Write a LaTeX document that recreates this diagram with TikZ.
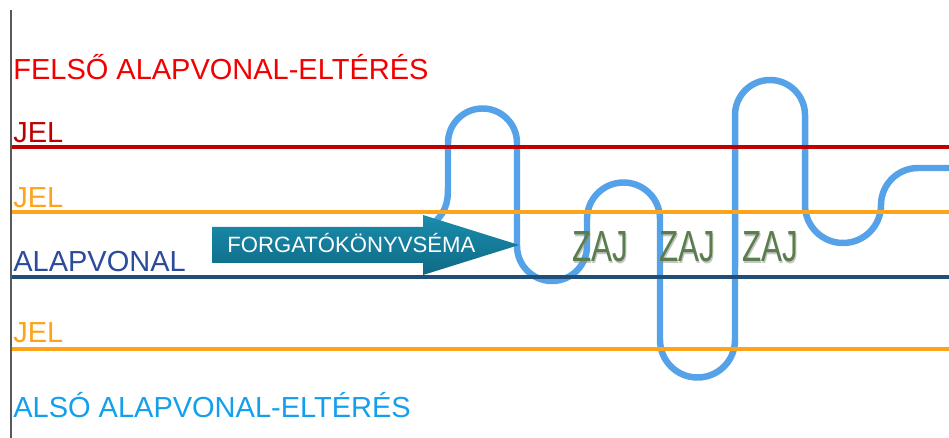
\documentclass[tikz,border=0pt]{standalone}
\usepackage{fontspec}
\setmainfont{Liberation Sans}
\definecolor{felsored}{HTML}{F20000}
\definecolor{jelred}{HTML}{C00000}
\definecolor{jelorange}{HTML}{FFA31A}
\definecolor{navyline}{HTML}{1F4E79}
\definecolor{navytext}{HTML}{2B4C9B}
\definecolor{alsoblue}{HTML}{12A0EC}
\definecolor{wave}{HTML}{55A2E8}
\definecolor{zajgreen}{HTML}{5A7D4C}
\definecolor{arrowtop}{HTML}{1A8DAC}
\definecolor{arrowbot}{HTML}{0E6A86}
\begin{document}
\begin{tikzpicture}[x=0.02cm,y=0.02cm,
  lbl/.style={anchor=base west,inner sep=0pt,font=\fontsize{16.5}{19}\selectfont},
  level/.style={line width=3.8pt*0.5669},
  zaj/.style={anchor=base,inner sep=0pt,text=zajgreen,font=\fontsize{24.8}{27}\selectfont},
  zajshadow/.style={anchor=base,inner sep=0pt,text=black!45,opacity=0.5,font=\fontsize{24.8}{27}\selectfont}]
\useasboundingbox (0,0) rectangle (949,-438);
\fill[white] (0,0) rectangle (949,-438);
% left axis
\draw[line width=1.4pt*0.5669,black!65] (11,-10) -- (11,-438);
% wave
\draw[wave,line width=6.5pt*0.5669,line cap=round,line join=round]
  (428,-228) .. controls (446,-214) and (448,-203) .. (448,-188)
  -- (448,-143) arc[start angle=180,end angle=0,radius=34.5]
  -- (517,-246) arc[start angle=180,end angle=360,radius=35]
  -- (587,-219) arc[start angle=180,end angle=0,radius=36.5]
  -- (660,-340) arc[start angle=180,end angle=360,radius=37.5]
  -- (735,-115) arc[start angle=180,end angle=0,radius=35]
  -- (805,-205) arc[start angle=180,end angle=360,radius=38]
  arc[start angle=180,end angle=90,radius=37]
  -- (949,-168);
% level lines
\coordinate (r0) at (12,-147); \coordinate (r1) at (949,-147);
\coordinate (o0) at (12,-212); \coordinate (o1) at (949,-212);
\coordinate (n0) at (12,-277); \coordinate (n1) at (949,-277);
\coordinate (p0) at (12,-349); \coordinate (p1) at (949,-349);
\draw[level,jelred] (r0) -- (r1);
\draw[level,jelorange] (o0) -- (o1);
\draw[level,navyline] (n0) -- (n1);
\draw[level,jelorange] (p0) -- (p1);
% labels
\node[lbl,text=felsored] (felso) at (13,-80) {FELSŐ ALAPVONAL-ELTÉRÉS};
\node[lbl,text=jelred] (jel1) at (13,-143) {JEL};
\node[lbl,text=jelorange] (jel2) at (13,-208) {JEL};
\node[lbl,text=navytext] (alap) at (13,-272) {ALAPVONAL};
\node[lbl,text=jelorange] (jel3) at (13,-343) {JEL};
\node[lbl,text=alsoblue] (also) at (13,-418) {ALSÓ ALAPVONAL-ELTÉRÉS};
% arrow
\shade[top color=arrowtop,bottom color=arrowbot]
  (212,-227) -- (423,-227) -- (423,-215) -- (519,-245) -- (423,-275) -- (423,-263) -- (212,-263) -- cycle;
\node[anchor=base west,inner sep=0pt,text=white,font=\fontsize{12.6}{14}\selectfont] (forg) at (227,-253) {FORGATÓKÖNYVSÉMA};
% noise labels
\foreach \n/\x in {a/600,b/687,c/770}{
  \node[zajshadow] at (\x+1.2,-263.5) {\scalebox{0.72}[1]{ZAJ}};
  \node[zaj] (zaj\n) at (\x,-262) {\scalebox{0.72}[1]{ZAJ}};
}
\end{tikzpicture}
\end{document}
